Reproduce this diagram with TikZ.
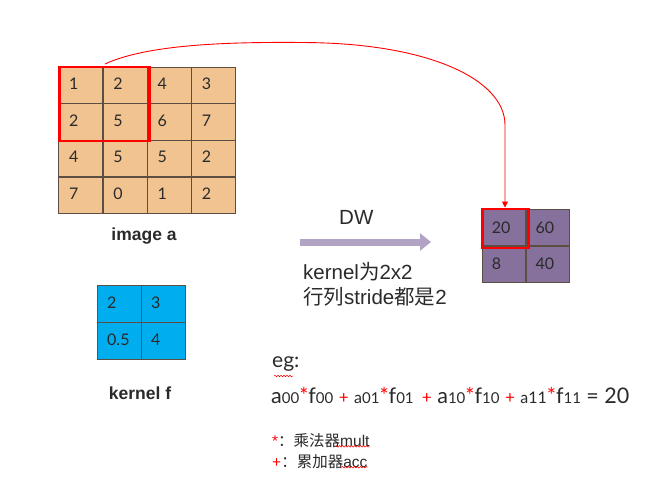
\documentclass[tikz,border=0pt]{standalone}
\usepackage{fontspec}
\setmainfont{Liberation Sans}
\newfontfamily\gill{Lato}
\newfontfamily\cjk{Noto Sans CJK SC}
\usetikzlibrary{arrows.meta,decorations.pathmorphing}
\definecolor{peach}{HTML}{F1C391}
\definecolor{gridline}{HTML}{5C4E42}
\definecolor{cyanf}{HTML}{00AEEF}
\definecolor{purp}{HTML}{86709C}
\definecolor{lav}{HTML}{B1A3C3}
\definecolor{txt}{HTML}{2A2A2A}
\tikzset{
  cellbox/.style={draw=gridline,line width=1.3pt,inner sep=0pt,anchor=north west},
  digit/.style={font=\gill\fontsize{16}{16}\selectfont,text=txt,anchor=west,inner sep=0pt},
  redbox/.style={draw=red,line width=2.8pt,inner sep=0pt,anchor=north west},
  caption/.style={font=\bfseries\fontsize{17.5}{18}\selectfont,text=txt},
  plain/.style={font=\fontsize{20.5}{22}\selectfont,text=txt,anchor=west,inner sep=0pt},
  note/.style={font=\fontsize{15.5}{16}\selectfont,text=txt,anchor=west,inner sep=0pt},
  wavy/.style={draw=red,line width=0.5pt,decorate,decoration={snake,amplitude=0.8pt,segment length=3pt}}
}
\begin{document}
\begin{tikzpicture}[x=1pt,y=-1pt]
\useasboundingbox (0,0) rectangle (656,491);
% image a
\foreach \r/\row in {0/{1,2,4,3},1/{2,5,6,7},2/{4,5,5,2},3/{7,0,1,2}}{
  \foreach \v [count=\c from 0] in \row {
    \node[cellbox,fill=peach,minimum width=44.25pt,minimum height=36.6pt] (a\r\c) at ({58+44.25*\c},{66.5+36.6*\r}) {};
    \node[digit] (ta\r\c) at ([xshift=11pt,yshift=1.5pt]a\r\c.west) {\v};
  }
}
\node[redbox,minimum width=90pt,minimum height=74pt] (win) at (58,65.5) {};
\node[caption] (capa) at (144,236) {image a};
% kernel f
\foreach \r/\row in {0/{2,3},1/{0.5,4}}{
  \foreach \v [count=\c from 0] in \row {
    \node[cellbox,fill=cyanf,minimum width=44pt,minimum height=37pt] (f\r\c) at ({97+44*\c},{285+37*\r}) {};
    \node[digit] (tf\r\c) at ([xshift=10pt,yshift=1pt]f\r\c.west) {\v};
  }
}
\node[caption] (capf) at (140,393) {kernel f};
% output
\foreach \r/\row in {0/{20,60},1/{8,40}}{
  \foreach \v [count=\c from 0] in \row {
    \node[cellbox,fill=purp,minimum width=43.7pt,minimum height=36.3pt] (o\r\c) at ({481.7+43.7*\c},{209+36.3*\r}) {};
    \node[digit] (to\r\c) at ([xshift=10pt,yshift=0.5pt]o\r\c.west) {\v};
  }
}
\node[redbox,minimum width=46pt,minimum height=39pt] (owin) at (481,207.5) {};
% DW arrow
\node[plain] (dw) at (339,217) {DW};
\coordinate (arS) at (300,242);
\coordinate (arE) at (431,242);
\draw[lav,line width=7pt,-{Triangle[length=11pt,width=17pt]}] (arS) -- (arE);
\node[plain] (k1) at (303,272) {kernel{\cjk 为}2x2};
\node[plain] (k2) at (303,297) {{\cjk 行列}stride{\cjk 都是}2};
% red curve
\coordinate (cS) at (105,64);
\coordinate (cM) at (303,42.5);
\coordinate (cV) at (505,125);
\draw[draw=red,line width=0.9pt,-{Triangle[length=6pt,width=6pt]}]
  (cS) .. controls (150,43) and (240,42) .. (cM)
  .. controls (430,43) and (505,80) .. (cV) -- (owin.north -| cV);
% eg
\node[font=\gill\fontsize{21}{21}\selectfont,text=txt,anchor=west,inner sep=0pt] (eg) at (272,364) {eg:};
\draw[wavy] (274,376) -- (293,376);
\node[font=\gill\fontsize{21.5}{22}\selectfont,text=txt,anchor=west,inner sep=0pt] (eq) at (271,395)
 {a{\fontsize{15}{15}\selectfont 00}{\color{red}*}f{\fontsize{15}{15}\selectfont 00}
 {\fontsize{17}{17}\selectfont\color{red}+}
 {\fontsize{16}{16}\selectfont a}{\fontsize{15}{15}\selectfont 01}{\color{red}*}f{\fontsize{15}{15}\selectfont 01}
 {\fontsize{17}{17}\selectfont\color{red}\,+}
 a{\fontsize{15}{15}\selectfont 10}{\color{red}*}f{\fontsize{15}{15}\selectfont 10}
 {\fontsize{17}{17}\selectfont\color{red}+}
 {\fontsize{16}{16}\selectfont a11}{\color{red}*}f{\fontsize{15}{15}\selectfont 11} = 20};
\node[note] (n1) at (272,441) {{\color{red}*}{\cjk ：乘法器}mult};
\node[note] (n2) at (272,462) {{\color{red}+}{\cjk ：累加器}acc};
\draw[wavy] ([xshift=-34pt,yshift=2pt]n1.south east) -- ([yshift=2pt]n1.south east);
\draw[wavy] ([xshift=-26pt,yshift=2pt]n2.south east) -- ([yshift=2pt]n2.south east);
\end{tikzpicture}
\end{document}
